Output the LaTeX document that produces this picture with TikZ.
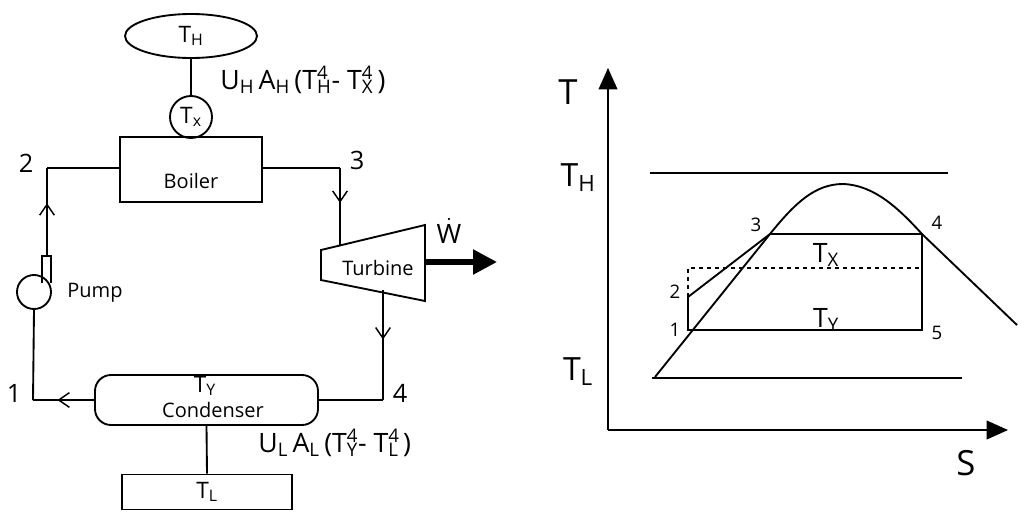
\documentclass[tikz,border=0pt]{standalone}
\usepackage{fontspec}
\setmainfont{Open Sans}
\usetikzlibrary{arrows.meta,decorations.markings,shapes.geometric}
\newcommand{\tsub}[3]{#1\rlap{\textsuperscript{#3}}\textsubscript{#2}}
\begin{document}
\begin{tikzpicture}[x=0.75pt,y=-0.75pt,line width=1.4pt,
  mid/.style={postaction={decorate},decoration={markings,mark=at position #1 with {\arrow{Straight Barb[length=8pt,width=11pt,line width=1.1pt]}}}},
  lbl/.style={font=\fontsize{15}{17}\selectfont},
  tl/.style={font=\fontsize{17}{19}\selectfont},
  big/.style={font=\fontsize{20}{22}\selectfont},
  num/.style={font=\fontsize{14}{16}\selectfont}]
\useasboundingbox (0,0) rectangle (1024,522);
% left
\node[draw,ellipse,minimum width=132pt*0.75,minimum height=44pt*0.75,inner sep=0,tl] (TH) at (191,36) {T\textsubscript{H}};
\node[draw,circle,minimum size=42pt*0.75,inner sep=0,tl] (TX) at (191,117) {T\textsubscript{x}};
\draw (TH.south) -- (TX.north);
\node[big,anchor=west] (UH) at (215,80) {U\textsubscript{H}\,A\textsubscript{H}\,(\tsub{T}{H}{4}- \tsub{T}{X}{4}\,)};
\node[draw,minimum width=142pt*0.75,minimum height=65pt*0.75,inner sep=0] (B) at (191,169.5) {};
\node[lbl] at (191,181) {Boiler};
\coordinate (c2) at (47,168); \coordinate (c3) at (340,168);
\node[font=\fontsize{19}{21}\selectfont] at (26,163) {2};
\node[font=\fontsize{19}{21}\selectfont] at (357,160) {3};
% pump
\node[draw,circle,minimum size=34pt*0.75,inner sep=0] (P) at (34,292) {};
\draw (42,283) -- (42,256) -- (51,256) -- (51,283);
\node[lbl,anchor=west] at (62,293) {Pump};
\draw[mid=0.6] (47,256) -- (c2);
\draw (c2) -- (B.west |- c2);
% turbine
\draw (321,250) -- (425,225) -- (425,301) -- (321,280) -- cycle;
\node[lbl] (T) at (378,268) {Turbine};
\draw (B.east |- c3) -- (c3);
\draw[mid=0.45] (c3) -- (340,245.5);
\draw[line width=4pt,-{Triangle[length=18pt,width=18pt]}] (425,262) -- (497,262);
\node[big] at (449,231) {$\dot{\mathrm{W}}$};
% condenser
\node[draw,rounded corners=12pt,minimum width=223pt*0.75,minimum height=50pt*0.75,inner sep=0] (C) at (206.5,400) {};
\node[tl] at (205,386) {T\textsubscript{Y}};
\node[lbl] at (213,410) {Condenser};
\coordinate (c4) at (383,400); \coordinate (c1) at (33,400);
\draw[mid=0.45] (383,290) -- (c4);
\draw (c4) -- (C.east);
\draw[mid=0.6] (C.west) -- (c1);
\draw (c1) -- (P.south);
\node[font=\fontsize{19}{21}\selectfont] at (400,393) {4};
\node[font=\fontsize{19}{21}\selectfont] at (14,393) {1};
\node[draw,minimum width=170pt*0.75,minimum height=35pt*0.75,inner sep=0,tl] (TL) at (207,492) {T\textsubscript{L}};
\draw (C.south) -- (TL.north);
\node[big,anchor=west] at (253,443) {U\textsubscript{L}\,A\textsubscript{L}\,(\tsub{T}{Y}{4}- \tsub{T}{L}{4}\,)};
% right graph
\coordinate (O) at (608,430);
\draw[-{Triangle[length=16pt,width=14pt]}] (O) -- (608,68);
\draw[-{Triangle[length=16pt,width=14pt]}] (O) -- (1008,430);
\node[font=\fontsize{26}{28}\selectfont] at (568,92) {T};
\node[font=\fontsize{26}{28}\selectfont] at (966,463) {S};
\node[font=\fontsize{24}{26}\selectfont] at (578,178) {T\textsubscript{H}};
\node[font=\fontsize{24}{26}\selectfont] at (578,372) {T\textsubscript{L}};
\draw (650,173) -- (948,173);
\draw (652,378) -- (962,378);
\draw (655,377) -- (770,234) .. controls (795,203) and (815,184) .. (843,184) .. controls (875,185) and (900,210) .. (922,234) -- (1017,325);
\draw (688,330) -- (688,297) -- (770,234) -- (922,234) -- (922,330) -- cycle;
\draw[dashed,line width=0.9pt] (688,297) -- (688,268) -- (922,268);
\node[num] at (756,225) {3};
\node[num] at (937,223) {4};
\node[num] at (675,292) {2};
\node[num] at (675,330) {1};
\node[num] at (937,333) {5};
\node[big] at (826,255) {T\textsubscript{X}};
\node[big] at (826,320) {T\textsubscript{Y}};
\end{tikzpicture}
\end{document}
